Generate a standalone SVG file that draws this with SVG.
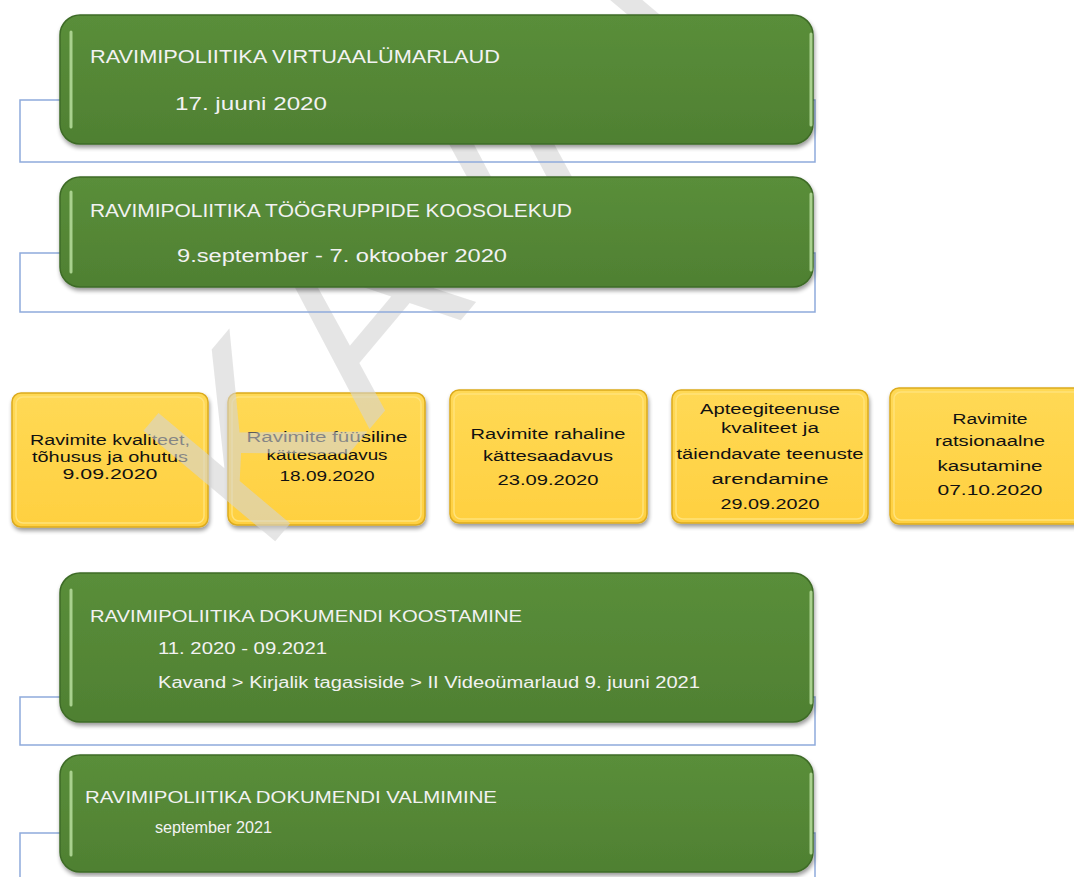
<svg xmlns="http://www.w3.org/2000/svg" width="1074" height="877" viewBox="0 0 1074 877">
<defs>
  <linearGradient id="gg" x1="0" y1="0" x2="0" y2="1">
    <stop offset="0" stop-color="#5a8e3a"/>
    <stop offset="1" stop-color="#4f8032"/>
  </linearGradient>
  <linearGradient id="yg" x1="0" y1="0" x2="0" y2="1">
    <stop offset="0" stop-color="#ffd955"/>
    <stop offset="1" stop-color="#ffd040"/>
  </linearGradient>
  <filter id="sh" x="-5%" y="-10%" width="112%" height="135%">
    <feGaussianBlur in="SourceAlpha" stdDeviation="2"/>
    <feOffset dx="1" dy="3"/>
    <feComponentTransfer><feFuncA type="linear" slope="0.4"/></feComponentTransfer>
    <feMerge><feMergeNode/><feMergeNode in="SourceGraphic"/></feMerge>
  </filter>
</defs>
<style>
  .frame{fill:none;stroke:#8eaadb;stroke-width:1.5}
  .gbox{fill:url(#gg);stroke:#3e6b27;stroke-width:1.5}
  .ghl{stroke:#a9d18e;stroke-width:3;stroke-linecap:round;fill:none}
  .ybox{fill:url(#yg);stroke:#dcab1e;stroke-width:1.5}
  .yin{fill:none;stroke:#ffe27a;stroke-width:1.5}
  .gt{font-family:"Liberation Sans",Arial,sans-serif;fill:#f2f2f2;font-size:18px}
  .gs{font-family:"Liberation Sans",Arial,sans-serif;fill:#f2f2f2;font-size:16px}
  .yt{font-family:"Liberation Sans",Arial,sans-serif;fill:#111;font-size:15.5px;text-anchor:middle}
  .wm{font-family:"Liberation Sans",Arial,sans-serif;font-size:250px;fill:#d4d4d4;fill-opacity:0.6}
</style>
<rect width="1074" height="877" fill="#ffffff"/>

<g id="connectors"></g>

<g id="y1">
  <rect class="ybox" x="12" y="393" width="196" height="134" rx="9" filter="url(#sh)"/>
  <rect class="yin" x="16" y="397" width="188" height="126" rx="7"/>
  <text class="yt" x="110" y="445" textLength="160" lengthAdjust="spacingAndGlyphs">Ravimite kvaliteet,</text>
  <text class="yt" x="110" y="462" textLength="156" lengthAdjust="spacingAndGlyphs">tõhusus ja ohutus</text>
  <text class="yt" x="110" y="479" textLength="95" lengthAdjust="spacingAndGlyphs">9.09.2020</text>
</g>
<g id="y2">
  <rect class="ybox" x="228" y="393" width="197" height="132" rx="9" filter="url(#sh)"/>
  <rect class="yin" x="232" y="397" width="189" height="124" rx="7"/>
  <text class="yt" x="327" y="442" textLength="161" lengthAdjust="spacingAndGlyphs">Ravimite füüsiline</text>
  <text class="yt" x="327" y="460" textLength="121" lengthAdjust="spacingAndGlyphs">kättesaadavus</text>
  <text class="yt" x="327" y="481" textLength="95" lengthAdjust="spacingAndGlyphs">18.09.2020</text>
</g>
<g id="y3">
  <rect class="ybox" x="450" y="390" width="197" height="133" rx="9" filter="url(#sh)"/>
  <rect class="yin" x="454" y="394" width="189" height="125" rx="7"/>
  <text class="yt" x="548" y="439" textLength="155" lengthAdjust="spacingAndGlyphs">Ravimite rahaline</text>
  <text class="yt" x="548" y="461" textLength="130" lengthAdjust="spacingAndGlyphs">kättesaadavus</text>
  <text class="yt" x="548" y="485" textLength="101" lengthAdjust="spacingAndGlyphs">23.09.2020</text>
</g>
<g id="y4">
  <rect class="ybox" x="672" y="390" width="196" height="133" rx="9" filter="url(#sh)"/>
  <rect class="yin" x="676" y="394" width="188" height="125" rx="7"/>
  <text class="yt" x="770" y="414" textLength="140" lengthAdjust="spacingAndGlyphs">Apteegiteenuse</text>
  <text class="yt" x="770" y="433" textLength="98" lengthAdjust="spacingAndGlyphs">kvaliteet ja</text>
  <text class="yt" x="770" y="459" textLength="187" lengthAdjust="spacingAndGlyphs">täiendavate teenuste</text>
  <text class="yt" x="770" y="484" textLength="117" lengthAdjust="spacingAndGlyphs">arendamine</text>
  <text class="yt" x="770" y="509" textLength="99" lengthAdjust="spacingAndGlyphs">29.09.2020</text>
</g>
<g id="y5">
  <rect class="ybox" x="890" y="388" width="200" height="136" rx="9" filter="url(#sh)"/>
  <rect class="yin" x="894" y="392" width="192" height="128" rx="7"/>
  <text class="yt" x="990" y="424" textLength="75" lengthAdjust="spacingAndGlyphs">Ravimite</text>
  <text class="yt" x="990" y="446" textLength="110" lengthAdjust="spacingAndGlyphs">ratsionaalne</text>
  <text class="yt" x="990" y="471" textLength="105" lengthAdjust="spacingAndGlyphs">kasutamine</text>
  <text class="yt" x="990" y="495" textLength="105" lengthAdjust="spacingAndGlyphs">07.10.2020</text>
</g>

<g id="watermark">
  <text class="wm" x="262" y="557" transform="rotate(-50 262 557)">KAVAND</text>
</g>

<g id="g1">
  <rect class="frame" x="20" y="100" width="795" height="62"/>
  <rect class="gbox" x="60" y="15" width="753" height="129" rx="20" filter="url(#sh)"/>
  <line class="ghl" x1="71" y1="32" x2="71" y2="127"/>
  <line class="ghl" x1="811" y1="34" x2="811" y2="125"/>
  <text class="gt" x="90" y="63" textLength="410" lengthAdjust="spacingAndGlyphs">RAVIMIPOLIITIKA VIRTUAALÜMARLAUD</text>
  <text class="gt" x="175" y="110" textLength="152" lengthAdjust="spacingAndGlyphs">17. juuni 2020</text>
</g>
<g id="g2">
  <rect class="frame" x="20" y="253" width="795" height="59"/>
  <rect class="gbox" x="60" y="177" width="753" height="110" rx="20" filter="url(#sh)"/>
  <line class="ghl" x1="71" y1="192" x2="71" y2="272"/>
  <line class="ghl" x1="811" y1="194" x2="811" y2="270"/>
  <text class="gt" x="90" y="217" textLength="482" lengthAdjust="spacingAndGlyphs">RAVIMIPOLIITIKA TÖÖGRUPPIDE KOOSOLEKUD</text>
  <text class="gt" x="177" y="262" textLength="330" lengthAdjust="spacingAndGlyphs">9.september - 7. oktoober 2020</text>
</g>
<g id="g3">
  <rect class="frame" x="20" y="697" width="795" height="48"/>
  <rect class="gbox" x="60" y="573" width="753" height="149" rx="20" filter="url(#sh)"/>
  <line class="ghl" x1="71" y1="590" x2="71" y2="705"/>
  <line class="ghl" x1="811" y1="592" x2="811" y2="703"/>
  <text class="gt" x="90" y="622" style="font-size:17px" textLength="432" lengthAdjust="spacingAndGlyphs">RAVIMIPOLIITIKA DOKUMENDI KOOSTAMINE</text>
  <text class="gs" x="158" y="654" textLength="169" lengthAdjust="spacingAndGlyphs">11. 2020 - 09.2021</text>
  <text class="gs" x="158" y="688" textLength="542" lengthAdjust="spacingAndGlyphs">Kavand &gt; Kirjalik tagasiside &gt; II Videoümarlaud 9. juuni 2021</text>
</g>
<g id="g4">
  <rect class="frame" x="20" y="833" width="795" height="60"/>
  <rect class="gbox" x="60" y="755" width="753" height="117" rx="20" filter="url(#sh)"/>
  <line class="ghl" x1="71" y1="772" x2="71" y2="855"/>
  <line class="ghl" x1="811" y1="774" x2="811" y2="853"/>
  <text class="gt" x="85" y="803" style="font-size:17px" textLength="412" lengthAdjust="spacingAndGlyphs">RAVIMIPOLIITIKA DOKUMENDI VALMIMINE</text>
  <text class="gs" x="155" y="833" textLength="117" lengthAdjust="spacingAndGlyphs">september 2021</text>
</g>
</svg>
